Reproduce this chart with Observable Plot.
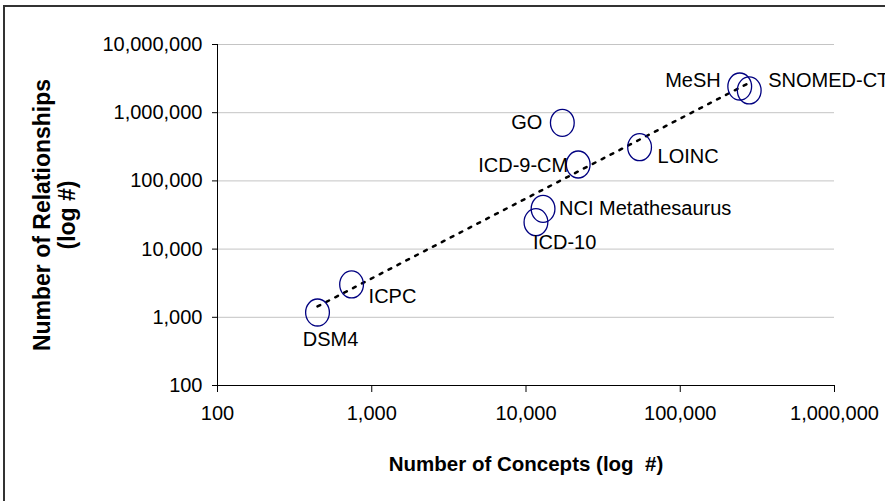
<!DOCTYPE html>
<html>
<head>
<meta charset="utf-8">
<script src="https://cdn.jsdelivr.net/npm/d3@7"></script>
<script src="https://cdn.jsdelivr.net/npm/@observablehq/plot@0.6"></script>
<style>
  html, body { margin: 0; padding: 0; background: white; }
  #chart { position: relative; width: 885px; height: 501px; overflow: hidden; }
  #frame { position: absolute; left: 3px; top: 5px; width: 900px; height: 520px;
           border-top: 2px solid #333; border-left: 2px solid #333; pointer-events: none; }
</style>
</head>
<body>
<div id="chart"><div id="frame"></div></div>
<script>
// ---- data ----
const names = ["DSM4", "ICPC", "GO", "ICD-9-CM", "LOINC", "NCI Metathesaurus", "ICD-10", "MeSH", "SNOMED-CT"];
const concepts = [445, 740, 17200, 21800, 54500, 12900, 11600, 243000, 280000];
const relationships = [1175, 3030, 711000, 174000, 312000, 39000, 24800, 2420000, 2120000];
const xTicks = [100, 1000, 10000, 100000, 1000000];
const yTicks = [100, 1000, 10000, 100000, 1000000, 10000000];
const xTitle = "Number of Concepts (log  #)";
const yTitle = "Number of Relationships\n(log #)";

// ---- label placement (layout only) ----
const labelPlace = {
  "DSM4": {anchor: "middle", dx: 13, dy: 27},
  "ICPC": {anchor: "start", dx: 17, dy: 12},
  "GO": {anchor: "end", dx: -20, dy: 0},
  "ICD-9-CM": {anchor: "end", dx: -10, dy: 1},
  "LOINC": {anchor: "start", dx: 18, dy: 9},
  "NCI Metathesaurus": {anchor: "start", dx: 16, dy: 0},
  "ICD-10": {anchor: "start", dx: -3, dy: 20},
  "MeSH": {anchor: "end", dx: -19, dy: -6},
  "SNOMED-CT": {anchor: "start", dx: 19, dy: -10}
};

const data = names.map((n, i) => ({name: n, x: concepts[i], y: relationships[i]}));

// power-law trend line (least squares in log-log space)
const lx = concepts.map(Math.log10), ly = relationships.map(Math.log10);
const mx = d3.mean(lx), my = d3.mean(ly);
const slope = d3.sum(lx, (v, i) => (v - mx) * (ly[i] - my)) / d3.sum(lx, v => (v - mx) ** 2);
const icpt = my - slope * mx;
const [xmin, xmax] = d3.extent(concepts);
const trend = [xmin, xmax].map(x => ({x, y: Math.pow(10, icpt + slope * Math.log10(x))}));

// ellipse symbol
const ellipse = {
  draw(ctx, size) {
    const r = Math.sqrt(size / Math.PI), rx = r * 0.88, ry = r, k = 0.5523;
    ctx.moveTo(rx, 0);
    ctx.bezierCurveTo(rx, ry * k, rx * k, ry, 0, ry);
    ctx.bezierCurveTo(-rx * k, ry, -rx, ry * k, -rx, 0);
    ctx.bezierCurveTo(-rx, -ry * k, -rx * k, -ry, 0, -ry);
    ctx.bezierCurveTo(rx * k, -ry, rx, -ry * k, rx, 0);
    ctx.closePath();
  }
};

const fmt = d3.format(",");
const labelMarks = data.map(d => {
  const p = labelPlace[d.name];
  return Plot.text([d], {x: "x", y: "y", text: "name", textAnchor: p.anchor, dx: p.dx, dy: p.dy,
    fontSize: 20, fill: "black", letterSpacing: "-0.4px"});
});

const chart = Plot.plot({
  width: 885, height: 501,
  marginLeft: 217, marginRight: 51, marginTop: 44, marginBottom: 116,
  style: {fontFamily: "'Liberation Sans', Arial, sans-serif", fontSize: "20px", background: "white", color: "black"},
  x: {type: "log", domain: [100, 1000000]},
  y: {type: "log", domain: [100, 10000000]},
  marks: [
    Plot.gridY(yTicks, {stroke: "#c4c4c4", strokeOpacity: 1, strokeWidth: 1}),
    Plot.ruleY([100], {stroke: "black", strokeWidth: 1}),
    Plot.ruleX([100], {stroke: "black", strokeWidth: 1}),
    Plot.axisX(xTicks, {tickFormat: fmt, tickSize: 7, tickPadding: 13, fontSize: 20, label: null, stroke: "black"}),
    Plot.axisY(yTicks, {tickFormat: fmt, tickSize: 5, tickPadding: 10, fontSize: 20, label: null, stroke: "black"}),
    Plot.line(trend, {x: "x", y: "y", stroke: "black", strokeWidth: 2.5, strokeDasharray: "3 7"}),
    Plot.dot(data, {x: "x", y: "y", symbol: ellipse, r: 13.5, stroke: "#000080", strokeWidth: 1.3, fill: "none"}),
    ...labelMarks,
    Plot.text([xTitle], {frameAnchor: "bottom", dy: 85, text: d => d, fontSize: 20.5, fontWeight: "bold", fill: "black"}),
    Plot.text([yTitle], {frameAnchor: "left", textAnchor: "middle", dx: -163, text: d => d, rotate: -90, fontSize: 23, lineHeight: 1.08, fontWeight: "bold", fill: "black"})
  ]
});
document.getElementById("chart").insertBefore(chart, document.getElementById("frame"));
</script>
</body>
</html>
